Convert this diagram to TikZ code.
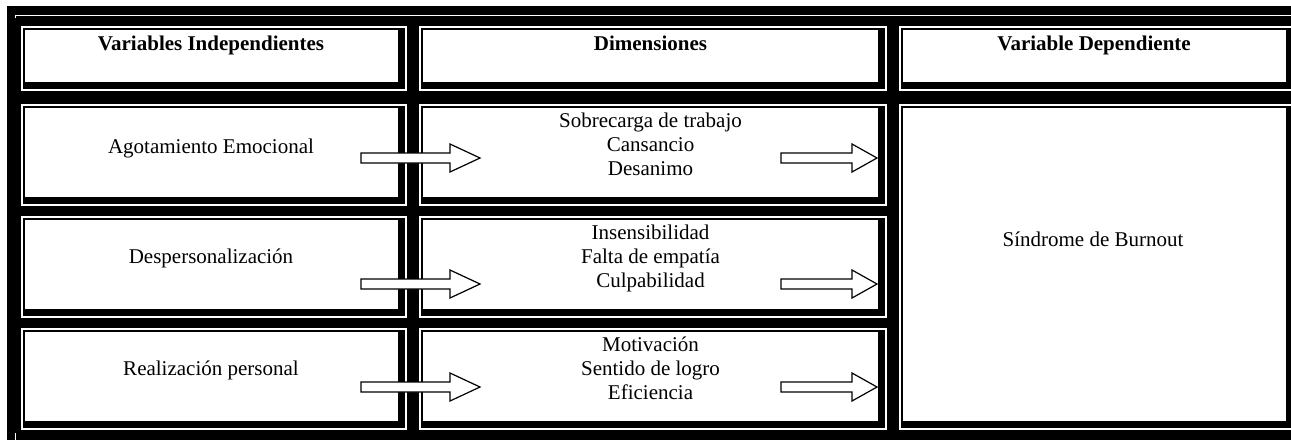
\documentclass[tikz,border=0pt]{standalone}
\usepackage{fontspec}
\setmainfont{Liberation Serif}
\newcommand{\celda}[4]{%
  \fill[white] (#1,#2) rectangle (#3,#4);
  \fill[black] (#1+2,#2+2) rectangle (#3-2,#4-2);
  \fill[white] (#1+4,#2+4) rectangle (#3-9,#4-9);}
\newcommand{\flecha}[4]{%
  \draw[flechabloque] (#1,#4-5) -- (#2,#4-5) -- (#2,#4-14) -- (#3,#4)
    -- (#2,#4+14) -- (#2,#4+5) -- (#1,#4+5) -- cycle;}
\begin{document}
\begin{tikzpicture}[x=0.75pt,y=-0.75pt,
  texto/.style={anchor=base, align=center, inner sep=0pt, font=\fontsize{15.75pt}{18pt}\selectfont},
  titulo/.style={texto, font=\fontsize{15.75pt}{18pt}\selectfont\bfseries},
  flechabloque/.style={draw=black, fill=white, line width=0.9pt, line join=miter}]
\useasboundingbox (0,0) rectangle (1291,440);
\fill[white] (0,0) rectangle (1291,440);
\fill[black] (7,6) rectangle (1291,440);
\draw[white, line width=1.1pt] (15.5,18) -- (15.5,15.5) -- (1291,15.5);
\draw[white, line width=1.1pt] (15.5,433) -- (15.5,440);
\celda{21}{26}{407}{91}
\celda{419}{26}{887}{91}
\celda{899}{26}{1295}{91}
\celda{21}{104}{407}{206}
\celda{419}{104}{887}{206}
\celda{21}{216}{407}{318}
\celda{419}{216}{887}{318}
\celda{21}{328}{407}{430}
\celda{419}{328}{887}{430}
\celda{899}{104}{1295}{430}
\node[titulo] (tvi) at (211,50) {Variables Independientes};
\node[titulo] (tdim) at (650.5,50) {Dimensiones};
\node[titulo] (tvd) at (1094,50) {Variable Dependiente};
\node[texto] (vi1) at (211,153) {Agotamiento Emocional};
\node[texto] (vi2) at (211,263) {Despersonalización};
\node[texto] (vi3) at (211,375) {Realización personal};
\node[texto] (dim1) at (650.5,175) {Sobrecarga de trabajo\\Cansancio\\Desanimo};
\node[texto] (dim2) at (650.5,287) {Insensibilidad\\Falta de empatía\\Culpabilidad};
\node[texto] (dim3) at (650.5,399) {Motivación\\Sentido de logro\\Eficiencia};
\node[texto] (vd) at (1093,246) {Síndrome de Burnout};
\flecha{361}{450}{480}{158}
\flecha{781}{852}{877}{158}
\flecha{361}{450}{480}{284}
\flecha{781}{852}{877}{284}
\flecha{361}{450}{480}{387}
\flecha{781}{852}{877}{387}
\end{tikzpicture}
\end{document}
